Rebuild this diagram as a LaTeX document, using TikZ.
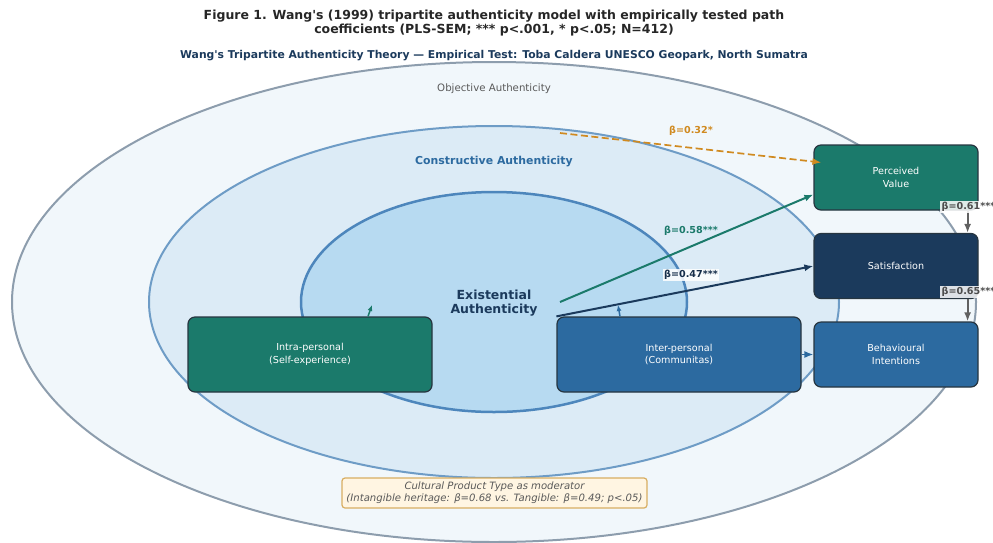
\documentclass[tikz,border=0pt]{standalone}
\usepackage{fontspec}
\setmainfont{DejaVu Sans}
\usepackage{tikz}
\usetikzlibrary{positioning}
\usetikzlibrary{arrows}
\usetikzlibrary{arrows.meta}
\usetikzlibrary{calc}
\usetikzlibrary{shapes.geometric}
\tikzset{>=latex}
\definecolor{tealc}{HTML}{1B7A6B}
\definecolor{navyc}{HTML}{1B3A5C}
\definecolor{bluec}{HTML}{2C6AA0}
\definecolor{orangec}{HTML}{D08A20}
\definecolor{outerfill}{HTML}{F1F7FB}
\definecolor{outerline}{HTML}{8D9DAD}
\definecolor{midfill}{HTML}{DCEBF6}
\definecolor{midline}{HTML}{6E9CC6}
\definecolor{innerfill}{HTML}{B7DAF1}
\definecolor{innerline}{HTML}{4D86BC}
\definecolor{boxline}{HTML}{263540}
\definecolor{modfill}{HTML}{FFF5E2}
\definecolor{modline}{HTML}{D8AE62}
\tikzstyle{outerell}=[draw=outerline,line width=2pt,fill=outerfill]
\tikzstyle{midell}=[draw=midline,line width=2pt,fill=midfill]
\tikzstyle{innerell}=[draw=innerline,line width=2.5pt,fill=innerfill]
\tikzstyle{dimbox}=[draw=boxline,line width=1.2pt,rounded corners=7pt,minimum width=244pt,minimum height=75pt,text=white,align=center,font=\fontsize{9.6}{12.5}\selectfont]
\tikzstyle{outbox}=[draw=boxline,line width=1.2pt,rounded corners=7pt,minimum width=164pt,minimum height=65pt,text=white,align=center,font=\fontsize{9.6}{12.5}\selectfont]
\tikzstyle{betalabel}=[font=\bfseries\fontsize{9.6}{11}\selectfont,inner sep=1.5pt]
\tikzstyle{taro}=[-{Latex[length=9pt,width=7pt]},line width=2pt]
\begin{document}
\begin{tikzpicture}[x=1pt,y=-1pt]
	\useasboundingbox (0,0) rectangle (993,542);
	\clip (0,0) rectangle (993,542);

	% Title
	\node[align=center,text=black!85,font=\bfseries\fontsize{12.5}{14}\selectfont] (title) at (494,23) {Figure 1. Wang\textquotesingle s (1999) tripartite authenticity model with empirically tested path\\coefficients (PLS-SEM; *** p<.001, * p<.05; N=412)};
	\node[text=navyc,font=\bfseries\fontsize{10.8}{12}\selectfont] (subtitle) at (494,56) {Wang\textquotesingle s Tripartite Authenticity Theory — Empirical Test: Toba Caldera UNESCO Geopark, North Sumatra};

	% Authenticity layers
	\draw[outerell] (494,302) ellipse [x radius=482, y radius=240];
	\draw[midell] (494,302) ellipse [x radius=345, y radius=176];
	\draw[innerell] (494,302) ellipse [x radius=193, y radius=110];
	\node[text=black!65,font=\fontsize{10.2}{12}\selectfont] (objective) at (494,89) {Objective Authenticity};
	\node[text=bluec,font=\bfseries\fontsize{10.9}{13}\selectfont] (constructive) at (494,162) {Constructive Authenticity};
	\node[text=navyc,align=center,font=\bfseries\fontsize{12.5}{14}\selectfont] (existential) at (494,303) {Existential\\Authenticity};

	% Dimensions
	\node[dimbox,fill=tealc] (intra) at (310,354.5) {Intra-personal\\(Self-experience)};
	\node[dimbox,fill=bluec] (inter) at (679,354.5) {Inter-personal\\(Communitas)};
	\coordinate (intratip) at (372,305);
	\coordinate (intertip) at (618,305);
	\draw[-{Latex[length=6pt,width=5pt]},line width=1.5pt,tealc] ($(intra.north)+(58,0)$) -- (intratip);
	\draw[-{Latex[length=6pt,width=5pt]},line width=1.5pt,bluec] ($(inter.north)+(-59,0)$) -- (intertip);

	% Outcomes
	\node[outbox,fill=tealc] (pv) at (896,177.5) {Perceived\\Value};
	\node[outbox,fill=navyc] (sat) at (896,266) {Satisfaction};
	\node[outbox,fill=bluec] (bi) at (896,354.5) {Behavioural\\Intentions};

	% Paths
	\coordinate (exR) at (560,302);
	\coordinate (conR) at (560,133);
	\draw[taro,tealc] (exR) -- ($(pv.west)+(0,17)$);
	\draw[taro,navyc] (inter.north west) -- (sat.west);
	\draw[taro,orangec,dash pattern=on 7pt off 3.5pt,line width=1.7pt] (conR) -- ($(pv.west)+(8,-15)$);
	\draw[taro,bluec,line width=1.5pt] (inter.east) -- (bi.west);
	\draw[taro,black!62] ($(pv.south east)+(-11,0)$) -- ($(sat.north east)+(-11,0)$);
	\draw[taro,black!62] ($(sat.south east)+(-11,0)$) -- ($(bi.north east)+(-11,0)$);
	\node[betalabel,text=orangec] (b32) at (691,131) {β=0.32*};
	\node[betalabel,text=tealc] (b58) at (691,231) {β=0.58***};
	\node[betalabel,text=navyc!80!black,fill=white,fill opacity=0.85,text opacity=1] (b47) at (691,275) {β=0.47***};
	\node[betalabel,anchor=west,text=black!70,fill=white,fill opacity=0.85,text opacity=1] (b61) at (940,207) {β=0.61***};
	\node[betalabel,anchor=west,text=black!70,fill=white,fill opacity=0.85,text opacity=1] (b65) at (940,292) {β=0.65***};

	% Moderator
	\node[draw=modline,fill=modfill,line width=1.2pt,rounded corners=3pt,minimum width=305pt,minimum height=30pt,align=center,text=black!65,font=\itshape\fontsize{10.1}{12}\selectfont] (moderator) at (494.5,493) {Cultural Product Type as moderator\\(Intangible heritage: β=0.68 vs. Tangible: β=0.49; p<.05)};

\end{tikzpicture}
\end{document}
